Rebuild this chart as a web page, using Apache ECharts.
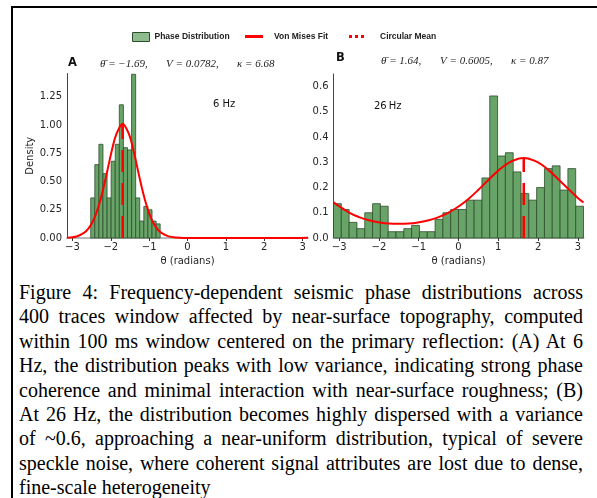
<!DOCTYPE html>
<html>
<head>
<meta charset="utf-8">
<script src="https://cdn.jsdelivr.net/npm/echarts@6/dist/echarts.min.js"></script>
<style>
  html, body { margin: 0; padding: 0; background: #fff; }
  #wrap { position: relative; width: 597px; height: 498px; overflow: hidden; }
  #chart { position: absolute; left: 0; top: 0; width: 597px; height: 280px; }
  #frame { position: absolute; left: 11px; top: 6px; width: 620px; height: 520px;
           border-left: 2.5px solid #000; border-top: 2.5px solid #000; pointer-events: none; }
  #caption { position: absolute; left: 19px; top: 280px; width: 564px;
             font-family: "Liberation Serif", "Times New Roman", serif; font-size: 20px; color: #000; }
  #caption div { height: 24.4px; line-height: 24.4px; text-align: justify; text-align-last: justify; overflow: hidden; }
  #caption div.last { text-align-last: left; }
</style>
</head>
<body>
<div id="wrap">
  <div id="chart"></div>
  <div id="caption">
    <div>Figure 4: Frequency-dependent seismic phase distributions across</div>
    <div>400 traces window affected by near-surface topography, computed</div>
    <div>within 100 ms window centered on the primary reflection: (A) At 6</div>
    <div>Hz, the distribution peaks with low variance, indicating strong phase</div>
    <div>coherence and minimal interaction with near-surface roughness; (B)</div>
    <div>At 26 Hz, the distribution becomes highly dispersed with a variance</div>
    <div>of ~0.6, approaching a near-uniform distribution, typical of severe</div>
    <div>speckle noise, where coherent signal attributes are lost due to dense,</div>
    <div class="last">fine-scale heterogeneity</div>
  </div>
  <div id="frame"></div>
</div>
<script>
// panel A (6 Hz) histogram
const binStartA = -2.523;
const binWidthA = 0.1065;
const densA = [0.355, 0.65, 0.83, 0.57, 0.355, 0.68, 0.83, 1.18, 0.80, 0.78, 1.45, 0.355, 0.15, 0.28, 0.25, 0.15, 0.125];

// panel B (26 Hz) histogram, 32 bins over [-pi, pi]
const binStartB = -Math.PI;
const binWidthB = 2 * Math.PI / 32;
const densB = [0.136, 0.113, 0.062, 0.037, 0.10, 0.136, 0.126, 0.025, 0.025, 0.037, 0.05, 0.025, 0.025, 0.074, 0.10, 0.113,
               0.113, 0.15, 0.15, 0.238, 0.563, 0.325, 0.338, 0.262, 0.176, 0.15, 0.20, 0.275, 0.286, 0.19, 0.275, 0.126];

// von mises fit curves
const fitThetaA = [-3.1416, -2.89, -2.69, -2.59, -2.49, -2.39, -2.29, -2.19, -2.09, -1.99, -1.89, -1.79, -1.69, -1.59, -1.49,
                   -1.39, -1.29, -1.19, -1.09, -0.99, -0.89, -0.79, -0.69, -0.49, -0.29, -0.09, 0.5, 1.5, 2.5, 3.1416];
const fitDensA = [0.003, 0.014, 0.047, 0.081, 0.133, 0.210, 0.315, 0.446, 0.596, 0.750, 0.885, 0.967, 1.011, 0.967, 0.885,
                  0.750, 0.596, 0.446, 0.315, 0.210, 0.133, 0.081, 0.047, 0.014, 0.004, 0.001, 0, 0, 0, 0.003];
const fitThetaB = [-3.1416, -2.75, -2.5, -2.25, -2, -1.75, -1.5, -1.25, -1, -0.75, -0.5, -0.25, 0, 0.25, 0.5, 0.75, 1, 1.25,
                   1.5, 1.64, 1.75, 2, 2.25, 2.5, 2.75, 3, 3.1416];
const fitDensB = [0.141, 0.101, 0.083, 0.070, 0.062, 0.057, 0.056, 0.057, 0.062, 0.070, 0.083, 0.101, 0.125, 0.155, 0.191,
                  0.230, 0.267, 0.297, 0.314, 0.317, 0.315, 0.300, 0.271, 0.234, 0.196, 0.159, 0.141];

// circular means
const meanA = -1.69, meanTopA = 1.011;
const meanB = 1.64, meanTopB = 0.317;

const thetaTicks = [-3, -2, -1, 0, 1, 2, 3];
const yTicksA = [0, 0.25, 0.5, 0.75, 1.0, 1.25];
const yTicksB = [0, 0.1, 0.2, 0.3, 0.4, 0.5, 0.6];

const histRows = (start, width, dens) => dens.map((d, i) => [start + i * width, start + (i + 1) * width, d]);
const zip = (xs, ys) => xs.map((x, i) => [x, ys[i]]);

function renderBar(params, api) {
  const p0 = api.coord([api.value(0), api.value(2)]);
  const p1 = api.coord([api.value(1), 0]);
  return {
    type: 'rect',
    shape: { x: p0[0], y: p0[1], width: p1[0] - p0[0], height: p1[1] - p0[1] },
    style: { fill: '#68a468', stroke: '#2f4d2f', lineWidth: 0.8 }
  };
}

const tickFont = { fontFamily: 'DejaVu Sans', fontSize: 10, color: '#262626' };
const minus = v => (v < 0 ? '\u2212' + Math.abs(v) : String(v));

function xAxisFor(grid) {
  return {
    gridIndex: grid, type: 'value', min: -Math.PI, max: Math.PI,
    name: 'θ (radians)', nameLocation: 'middle', nameGap: 17,
    nameTextStyle: tickFont,
    axisLine: { show: true, onZero: false, lineStyle: { color: '#b8b8b8', width: 2 } },
    axisTick: { show: true, customValues: thetaTicks, length: 3, lineStyle: { color: '#333', width: 1 } },
    axisLabel: Object.assign({ customValues: thetaTicks, margin: 4, formatter: minus }, tickFont),
    splitLine: { show: false }
  };
}

function yAxisFor(grid, max, ticks, digits, name) {
  return {
    gridIndex: grid, type: 'value', min: 0, max: max,
    name: name, nameLocation: 'middle', nameGap: 31, nameTextStyle: tickFont,
    axisLine: { show: true, onZero: false, lineStyle: { color: '#444', width: 1 } },
    axisTick: { show: false },
    axisLabel: Object.assign({ customValues: ticks, margin: 5, formatter: v => v.toFixed(digits) }, tickFont),
    splitLine: { show: false }
  };
}

const legendText = { fontFamily: 'Liberation Sans', fontWeight: 'bold', fontSize: 8.5, color: '#222' };
const lineIcon = 'path://M0,0h0.05v0.05h-0.05zM0,3h18v3h-18zM23.95,8.95h0.05v0.05h-0.05z';
const dotIcon = 'path://M0,0h0.05v0.05h-0.05zM0,3h3v3h-3zM6,3h3v3h-3zM12,3h3v3h-3zM25.95,8.95h0.05v0.05h-0.05z';

const statFont = { fontFamily: 'Liberation Serif', fontStyle: 'italic', fontSize: 11, fill: '#222' };
function label(x, y, text, style) {
  return { type: 'text', x: x, y: y, style: Object.assign({ text: text, verticalAlign: 'middle' }, style) };
}

const option = {
  animation: false,
  legend: [
    { left: 127, top: 27, itemWidth: 17, itemHeight: 9, selectedMode: false, textStyle: legendText,
      data: [{ name: 'Phase Distribution', icon: 'rect', itemStyle: { color: '#8fbc8f', borderColor: '#2f4d2f', borderWidth: 1 } }] },
    { left: 240, top: 27, itemWidth: 24, itemHeight: 9, selectedMode: false, textStyle: legendText,
      data: [{ name: 'Von Mises Fit', icon: lineIcon, itemStyle: { color: '#ff0000', borderWidth: 0 } }] },
    { left: 344, top: 27, itemWidth: 26, itemHeight: 9, selectedMode: false, textStyle: legendText,
      data: [{ name: 'Circular Mean', icon: dotIcon, itemStyle: { color: '#ff0000', borderWidth: 0 } }] }
  ],
  grid: [
    { left: 67, top: 73.5, width: 241, height: 164.5 },
    { left: 333.5, top: 74, width: 250, height: 164 }
  ],
  xAxis: [xAxisFor(0), xAxisFor(1)],
  yAxis: [yAxisFor(0, 1.457, yTicksA, 2, 'Density'), yAxisFor(1, 0.65, yTicksB, 1, '')],
  series: [
    { name: 'Phase Distribution', type: 'custom', xAxisIndex: 0, yAxisIndex: 0, renderItem: renderBar,
      encode: { x: [0, 1], y: 2 }, data: histRows(binStartA, binWidthA, densA) },
    { name: 'Phase Distribution', type: 'custom', xAxisIndex: 1, yAxisIndex: 1, renderItem: renderBar,
      encode: { x: [0, 1], y: 2 }, data: histRows(binStartB, binWidthB, densB) },
    { name: 'Von Mises Fit', type: 'line', xAxisIndex: 0, yAxisIndex: 0, showSymbol: false, smooth: 0.3,
      lineStyle: { color: '#ff0000', width: 2 }, itemStyle: { color: '#ff0000' },
      data: zip(fitThetaA, fitDensA) },
    { name: 'Von Mises Fit', type: 'line', xAxisIndex: 1, yAxisIndex: 1, showSymbol: false, smooth: 0.4,
      lineStyle: { color: '#ff0000', width: 2 }, itemStyle: { color: '#ff0000' },
      data: zip(fitThetaB, fitDensB) },
    { name: 'Circular Mean', type: 'line', xAxisIndex: 0, yAxisIndex: 0, showSymbol: false,
      lineStyle: { color: '#ff0000', width: 2.5, type: [22, 11] }, itemStyle: { color: '#ff0000' },
      data: [[meanA, 0], [meanA, meanTopA]] },
    { name: 'Circular Mean', type: 'line', xAxisIndex: 1, yAxisIndex: 1, showSymbol: false,
      lineStyle: { color: '#ff0000', width: 2.5, type: [22, 11] }, itemStyle: { color: '#ff0000' },
      data: [[meanB, 0], [meanB, meanTopB]] }
  ],
  graphic: [
    label(68, 63, 'A', { fontFamily: 'DejaVu Sans', fontWeight: 'bold', fontSize: 11.5, fill: '#111' }),
    label(336, 58, 'B', { fontFamily: 'DejaVu Sans', fontWeight: 'bold', fontSize: 11.5, fill: '#111' }),
    label(100, 64, 'θ̄ = \u22121.69,', statFont),
    label(166, 64, 'V = 0.0782,', statFont),
    label(237, 64, 'κ = 6.68', statFont),
    label(381, 61.5, 'θ̄ = 1.64,', statFont),
    label(440, 61.5, 'V = 0.6005,', statFont),
    label(511, 61.5, 'κ = 0.87', statFont),
    label(213, 104, '6 Hz', { fontFamily: 'DejaVu Sans', fontSize: 10, fill: '#111' }),
    label(374, 106, '26\u2009Hz', { fontFamily: 'DejaVu Sans', fontSize: 10, fill: '#111' })
  ]
};

const myChart = echarts.init(document.getElementById('chart'));
myChart.setOption(option);
</script>
</body>
</html>
